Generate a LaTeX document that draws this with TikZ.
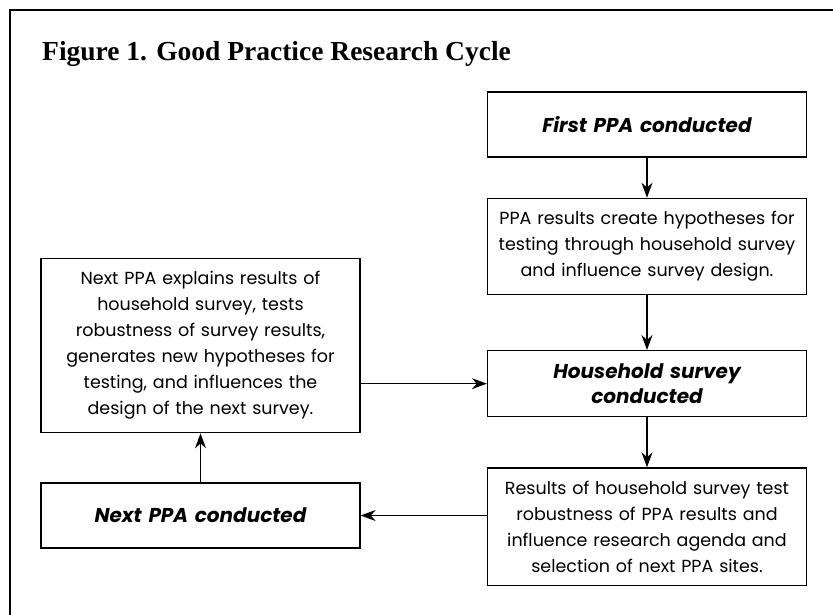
\documentclass[tikz,border=0pt]{standalone}
\usepackage{fontspec}
\setmainfont{Liberation Serif}
\setsansfont{Poppins}
\usetikzlibrary{arrows.meta,positioning}

\begin{document}
\begin{tikzpicture}[
      x=1pt, y=1pt,
      mybox/.style={
         rectangle,
         draw=black,
         line width=1.3pt,
         text width=303pt,
         inner xsep=8pt,
         inner ysep=13pt,
         minimum height=65pt,
         align=center,
         font=\sffamily\fontsize{17.5}{26}\selectfont},
      stagebox/.style={
         mybox,
         font=\sffamily\bfseries\itshape\fontsize{20}{25}\selectfont},
      myarrow/.style={-{Stealth[length=15pt,width=11pt]}, line width=1.2pt},
      node distance=40pt
      ]
      \useasboundingbox (0,0) rectangle (833,-615);
      % frame and title
      \draw[line width=1.1pt] (10,-615) -- (10,-10) -- (833,-10);
      \node[anchor=base west, inner sep=0pt,
            font=\rmfamily\bfseries\fontsize{27.5}{31}\selectfont] (title) at (42,-61)
            {Figure 1. Good Practice Research Cycle};

      \node[stagebox] (first) at (647,-124.5) {First PPA conducted};
      \node[mybox,below=40pt of first] (ppares)
            {PPA results create hypotheses for\\ testing through household survey\\ and influence survey design.};
      \node[stagebox,below=55pt of ppares] (house) {Household survey\\ conducted};
      \node[mybox,below=50pt of house] (results)
            {Results of household survey test\\ robustness of PPA results and\\ influence research agenda and\\ selection of next PPA sites.};
      \node[stagebox] (nextppa) at (200.5,-515.5) {Next PPA conducted};
      \node[mybox,above=49pt of nextppa] (explain)
            {Next PPA explains results of\\ household survey, tests\\ robustness of survey results,\\ generates new hypotheses for\\ testing, and influences the\\ design of the next survey.};

    \foreach \i/\j in {% start node/end node
      first/ppares,
      ppares/house,
      house/results,
      nextppa/explain}
       \draw [myarrow] (\i) -- (\j);

    % side arrows run at the height of the box they point to
    \draw [myarrow] (results.west |- nextppa.east) -- (nextppa.east);
    \draw [myarrow] (explain.east |- house.west) -- (house.west);

    \end{tikzpicture}
\end{document}
